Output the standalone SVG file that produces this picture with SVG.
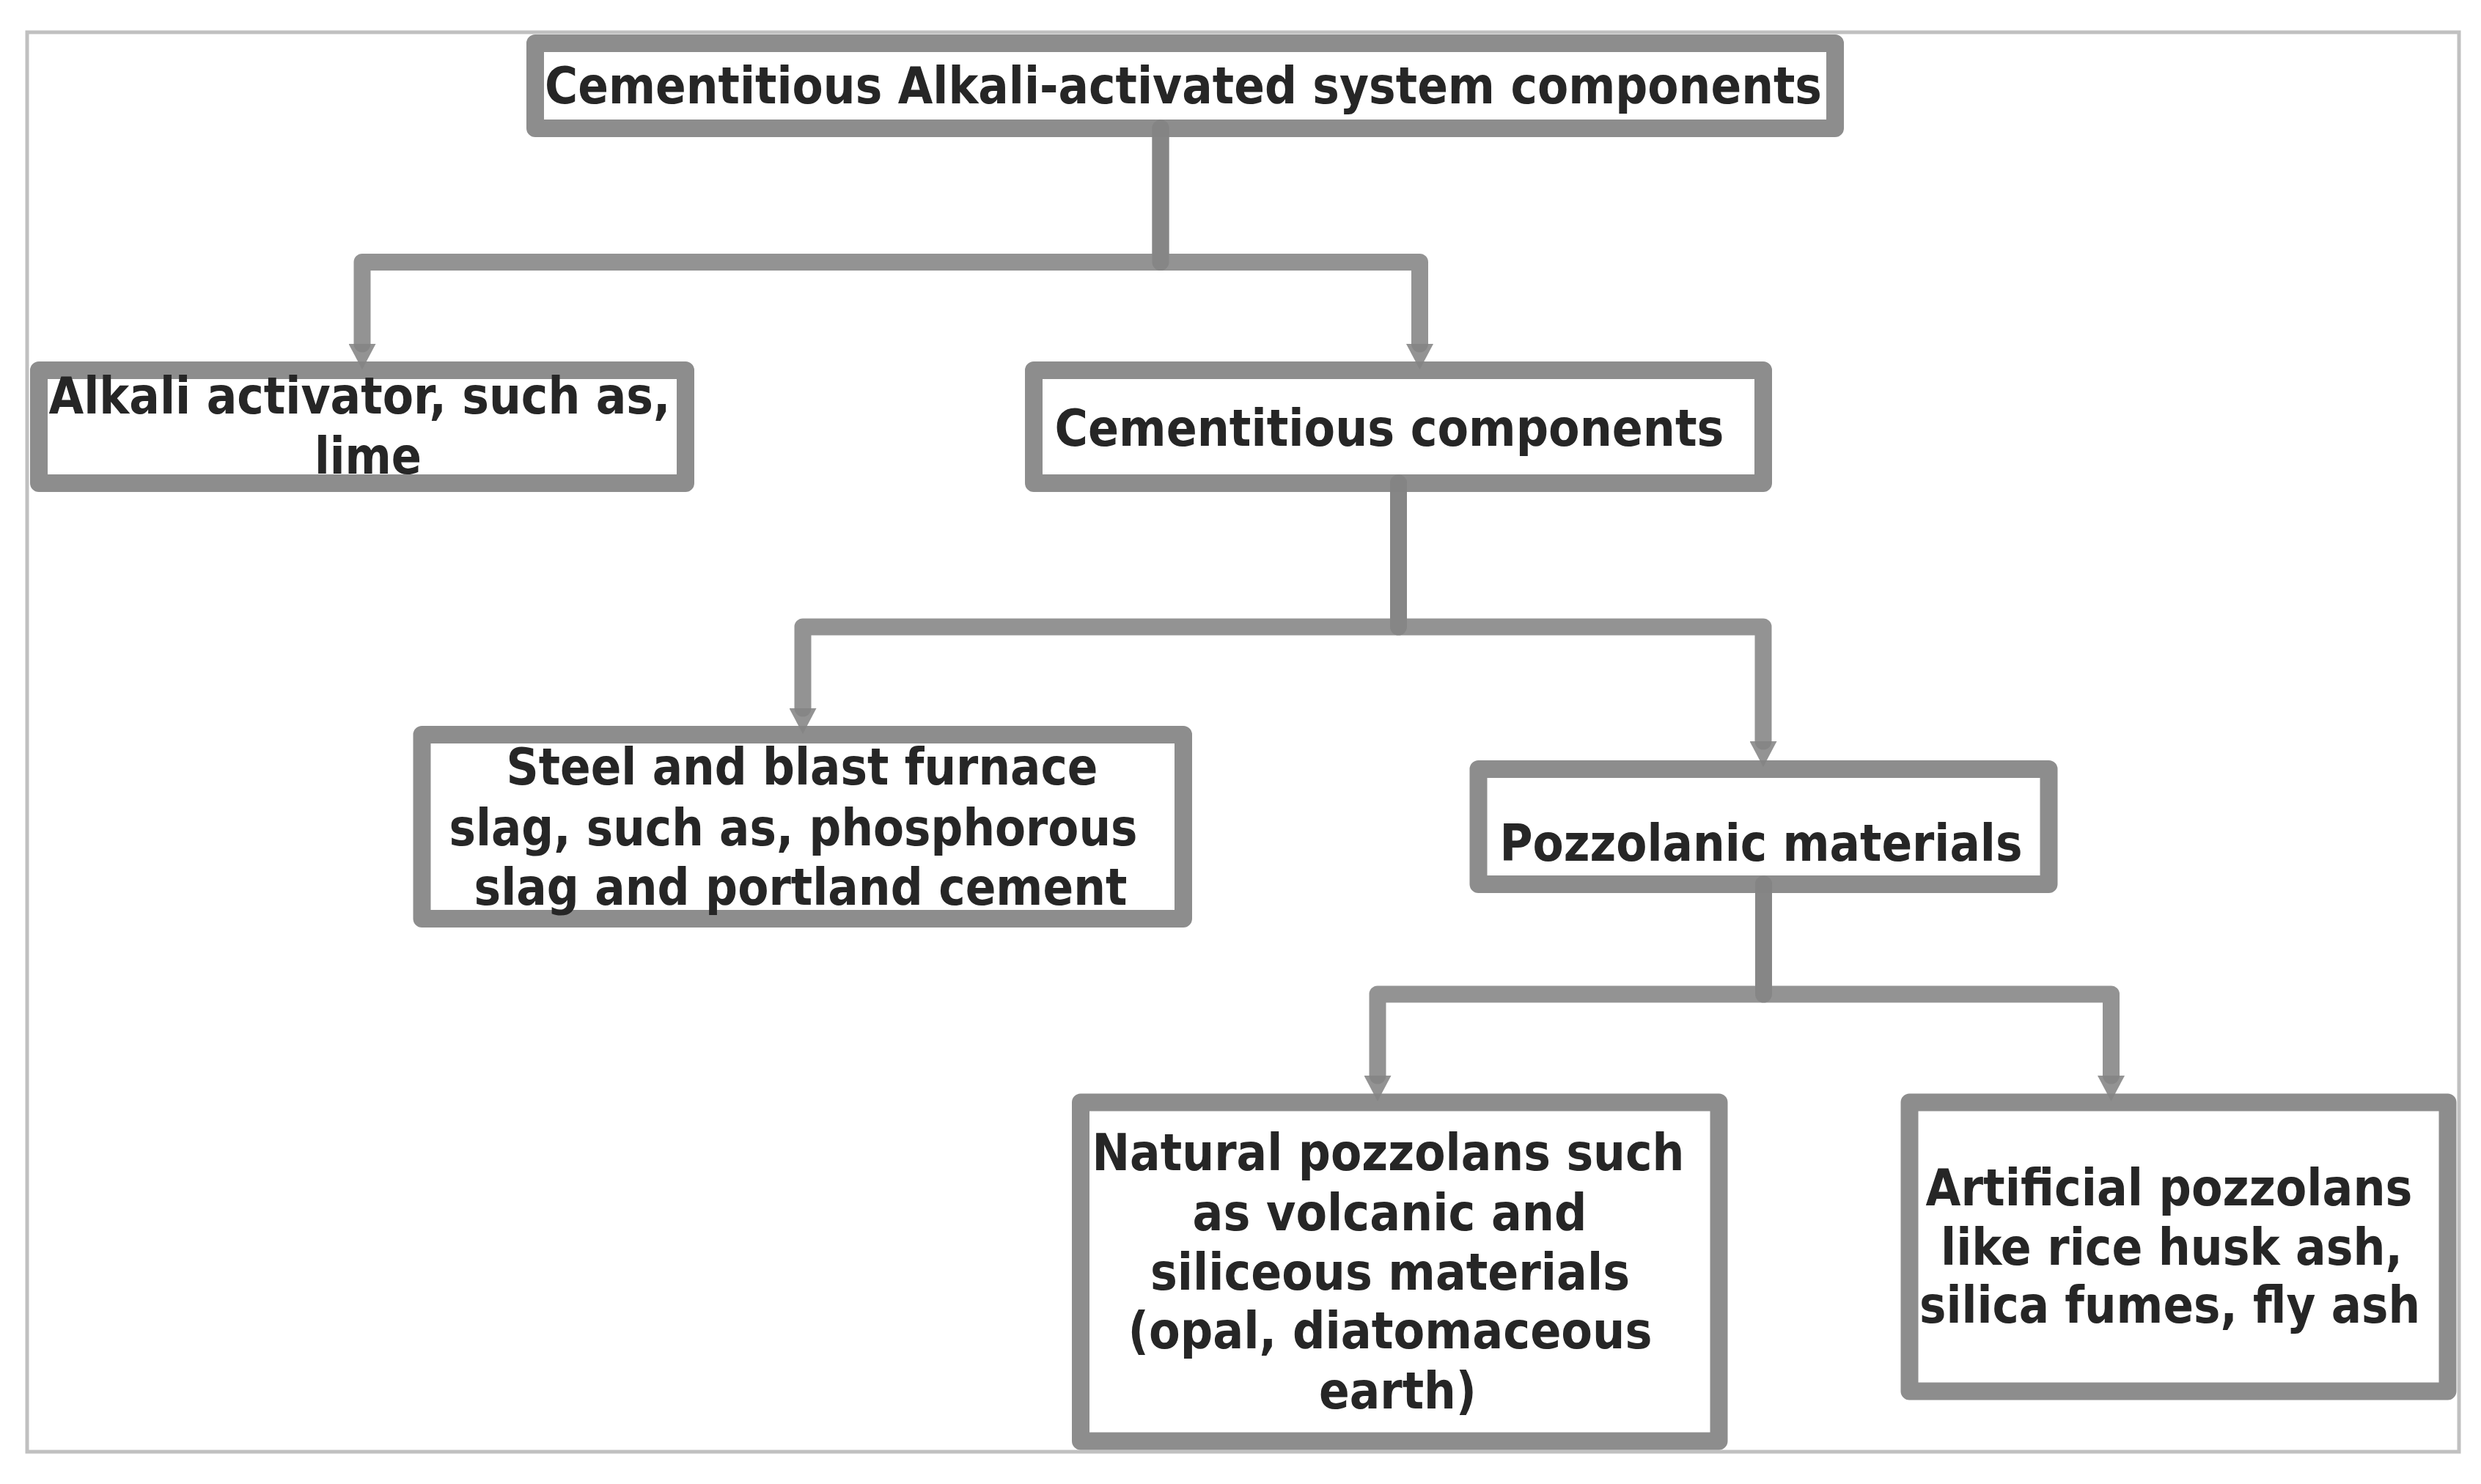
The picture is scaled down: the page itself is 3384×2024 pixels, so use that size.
<svg xmlns="http://www.w3.org/2000/svg" width="3384" height="2024" viewBox="0 0 3384 2024">
  <style>
    .box { fill: #ffffff; stroke: #8d8d8d; stroke-width: 24; stroke-linejoin: round; }
    .lbl { font-family: "DejaVu Sans", Verdana, sans-serif; font-weight: bold; font-size: 69px; fill: #262626; text-anchor: middle; }
    .conn { fill: none; stroke: #848484; stroke-opacity: 0.88; stroke-width: 23; stroke-linecap: round; stroke-linejoin: round; marker-end: url(#ah); }
  </style>
  <defs>
    <marker id="ah" markerUnits="userSpaceOnUse" viewBox="0 0 36 37" markerWidth="36" markerHeight="37" refX="0" refY="18.5" orient="auto">
      <path d="M0,0 L35,18.5 L0,37 Z" fill="#848484" fill-opacity="0.88"/>
    </marker>
  </defs>
  <rect x="0" y="0" width="3384" height="2024" fill="#ffffff"/>
  <rect id="frame" x="37" y="44" width="3317" height="1936" fill="none" stroke="#c0c0c0" stroke-width="5"/>

  <g id="node-root">
    <rect class="box" x="730" y="59" width="1773" height="116"/>
    <text class="lbl" x="1614" y="141" textLength="1742" lengthAdjust="spacingAndGlyphs">Cementitious Alkali-activated system components</text>
  </g>
  <g id="node-alkali">
    <rect class="box" x="53" y="505" width="882" height="154"/>
    <text class="lbl" x="490.5" y="564" textLength="848" lengthAdjust="spacingAndGlyphs">Alkali activator, such as,</text>
    <text class="lbl" x="502" y="646" textLength="146" lengthAdjust="spacingAndGlyphs">lime</text>
  </g>
  <g id="node-cementitious">
    <rect class="box" x="1410" y="505" width="995" height="154"/>
    <text class="lbl" x="1895" y="608" textLength="913" lengthAdjust="spacingAndGlyphs">Cementitious components</text>
  </g>
  <g id="node-steel">
    <rect class="box" x="575.5" y="1002" width="1038.5" height="251"/>
    <text class="lbl" x="1094" y="1070" textLength="807" lengthAdjust="spacingAndGlyphs">Steel and blast furnace</text>
    <text class="lbl" x="1082" y="1153" textLength="939" lengthAdjust="spacingAndGlyphs">slag, such as, phosphorous</text>
    <text class="lbl" x="1092" y="1234" textLength="891" lengthAdjust="spacingAndGlyphs">slag and portland cement</text>
  </g>
  <g id="node-pozzolanic">
    <rect class="box" x="2016.5" y="1049" width="778" height="157"/>
    <text class="lbl" x="2402" y="1174" textLength="713" lengthAdjust="spacingAndGlyphs">Pozzolanic materials</text>
  </g>
  <g id="node-natural">
    <rect class="box" x="1474" y="1503.5" width="870.5" height="462"/>
    <text class="lbl" x="1893.5" y="1596" textLength="808" lengthAdjust="spacingAndGlyphs">Natural pozzolans such</text>
    <text class="lbl" x="1895.5" y="1678" textLength="538" lengthAdjust="spacingAndGlyphs">as volcanic and</text>
    <text class="lbl" x="1896" y="1759" textLength="654" lengthAdjust="spacingAndGlyphs">siliceous materials</text>
    <text class="lbl" x="1896" y="1839" textLength="715" lengthAdjust="spacingAndGlyphs">(opal, diatomaceous</text>
    <text class="lbl" x="1906.5" y="1921" textLength="215" lengthAdjust="spacingAndGlyphs">earth)</text>
  </g>
  <g id="node-artificial">
    <rect class="box" x="2604.5" y="1503.5" width="734" height="394"/>
    <text class="lbl" x="2958.5" y="1644" textLength="664" lengthAdjust="spacingAndGlyphs">Artificial pozzolans</text>
    <text class="lbl" x="2962" y="1725" textLength="630" lengthAdjust="spacingAndGlyphs">like rice husk ash,</text>
    <text class="lbl" x="2959.5" y="1804" textLength="683" lengthAdjust="spacingAndGlyphs">silica fumes, fly ash</text>
  </g>

  <g id="connectors">
    <path class="conn" d="M1583,175 V357.5 H494 V469"/>
    <path class="conn" d="M1583,175 V357.5 H1936.5 V469"/>
    <path class="conn" d="M1907.5,659 V855 H1095 V966"/>
    <path class="conn" d="M1907.5,659 V855 H2405 V1011"/>
    <path class="conn" d="M2405.5,1206 V1356 H1879 V1467"/>
    <path class="conn" d="M2405.5,1206 V1356 H2879.5 V1467"/>
  </g>
</svg>
